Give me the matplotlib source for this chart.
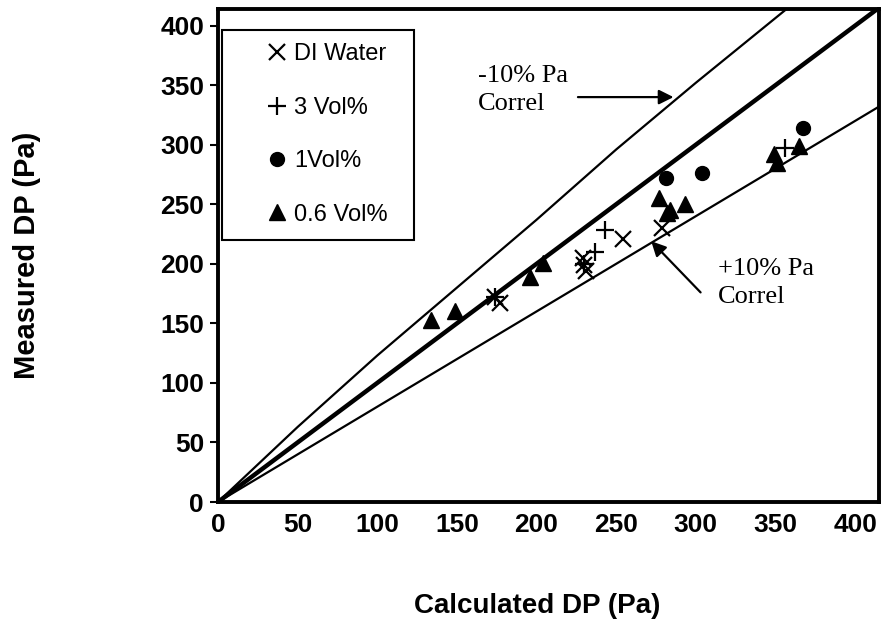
import matplotlib
matplotlib.use("Agg")
import matplotlib.pyplot as plt
from matplotlib.patches import Rectangle

# data (calculated DP, measured DP) in Pa
di_calc = [174, 177, 229, 230, 231, 254, 279]
di_meas = [172, 167, 205, 199, 194, 221, 230]

vol3_calc = [174, 230, 237, 243, 356]
vol3_meas = [172, 200, 210, 228, 297]

vol1_calc = [281, 304, 367]
vol1_meas = [272, 276, 314]

vol06_calc = [134, 149, 196, 204, 277, 282, 284, 293, 349, 351, 365]
vol06_meas = [153, 160, 189, 201, 255, 243, 245, 250, 292, 285, 299]

# correlation lines
parity_x = [0, 415]
parity_y = [0, 415]
minus10_x = [0, 50, 100, 150, 200, 250, 300, 357]
minus10_y = [0, 63, 123, 180, 237, 296, 352, 414]
plus10_x = [0, 415]
plus10_y = [0, 332]

plt.rcParams['font.family'] = ['Liberation Sans', 'DejaVu Sans']

fig = plt.figure(figsize=(8.85, 6.23), dpi=100)
ax = fig.add_axes([0.2463, 0.1942, 0.7469, 0.7914])

ax.plot(parity_x, parity_y, color='black', lw=3.2, solid_capstyle='butt')
ax.plot(minus10_x, minus10_y, color='black', lw=1.6)
ax.plot(plus10_x, plus10_y, color='black', lw=1.6)

ax.plot(di_calc, di_meas, 'x', color='black', ms=11, mew=1.6, label='DI Water')
ax.plot(vol3_calc, vol3_meas, '+', color='black', ms=13, mew=1.6, label='3 Vol%')
ax.plot(vol1_calc, vol1_meas, 'o', color='black', ms=10, label='1Vol%')
ax.plot(vol06_calc, vol06_meas, '^', color='black', ms=11, label='0.6 Vol%')

ax.set_xlim(0, 415)
ax.set_ylim(0, 414)
ax.set_xticks(range(0, 401, 50))
ax.set_yticks(range(0, 401, 50))
ax.tick_params(axis='y', direction='out', length=6, width=1.5, pad=4, labelsize=19)
ax.tick_params(axis='x', length=0, pad=8, labelsize=19)
for lab in ax.get_xticklabels() + ax.get_yticklabels():
    lab.set_fontweight('bold')
for sp in ax.spines.values():
    sp.set_linewidth(2.8)

ax.set_xlabel('Calculated DP (Pa)', fontsize=20, fontweight='bold', labelpad=40)
ax.xaxis.set_label_coords(0.483, -0.185)
ax.set_ylabel('Measured DP (Pa)', fontsize=21, fontweight='bold', labelpad=86)

# legend frame drawn separately so the entries can sit well inside it
ax.add_patch(Rectangle((0.006, 0.531), 0.291, 0.426, transform=ax.transAxes,
                       facecolor='white', edgecolor='black', lw=1.5, zorder=4))
leg = ax.legend(loc='upper left', bbox_to_anchor=(0.071, 0.93),
                borderaxespad=0, borderpad=0, frameon=False, fontsize=17,
                handlelength=1.0, handletextpad=0.25, labelspacing=1.33)
leg.set_zorder(5)

serif = ['Liberation Serif', 'DejaVu Serif']
ax.text(163, 346, '-10% Pa\nCorrel', family=serif, fontsize=19, va='center',
        ha='left', linespacing=1.38)
ax.annotate('', xy=(286, 340), xytext=(226, 340),
            arrowprops=dict(arrowstyle='-|>', color='black', lw=1.6,
                            mutation_scale=22, shrinkA=0, shrinkB=0))
ax.text(314, 184, '+10% Pa\nCorrel', family=serif, fontsize=19, va='center',
        ha='left', linespacing=1.38)
ax.annotate('', xy=(272, 219), xytext=(303, 176),
            arrowprops=dict(arrowstyle='-|>', color='black', lw=1.6,
                            mutation_scale=22, shrinkA=0, shrinkB=0))

fig.savefig('out.png', dpi=100)
